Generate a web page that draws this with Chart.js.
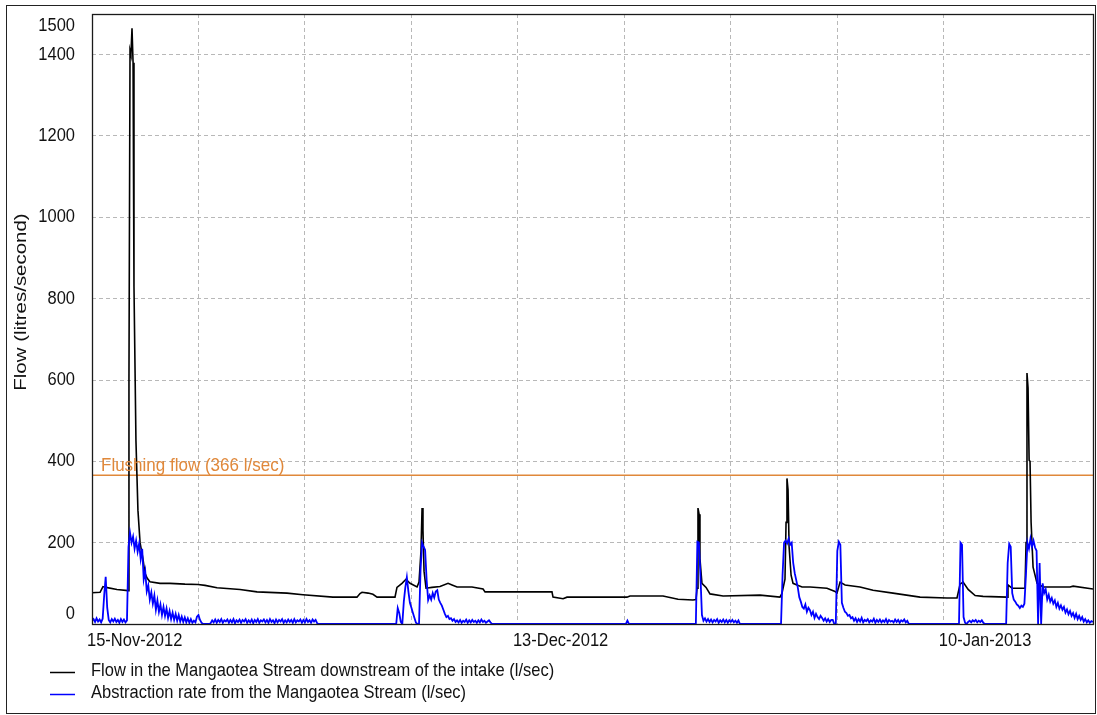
<!DOCTYPE html>
<html>
<head>
<meta charset="utf-8">
<title>Mangaotea Stream flow</title>
<script src="https://cdn.jsdelivr.net/npm/chart.js@4.4.1/dist/chart.umd.min.js"></script>
<style>
  html, body { margin: 0; padding: 0; background: #fff; }
  #wrap { width: 1097px; height: 715px; position: relative; }
</style>
</head>
<body>
<div id="wrap"><canvas id="flowChart" width="1097" height="715"></canvas></div>
<script>
// Time axis: days since 15-Nov-2012 00:00
const START_UTC = Date.UTC(2012, 10, 15);
const LAST_DAY = 65.81;
const MONTHS = ['Jan','Feb','Mar','Apr','May','Jun','Jul','Aug','Sep','Oct','Nov','Dec'];

// Axis tick positions
const flowTicks = [0, 200, 400, 600, 800, 1000, 1200, 1400, 1500];
const dateTickDays = [0, 28, 56];
const gridStepDays = 7;

// Flow downstream of the intake (l/sec)
const flowDays = [
  0, 0.53, 0.72, 0.92, 1.64, 2.37, 2.43, 2.50, 2.56, 2.63, 2.70, 2.76, 2.89, 3.02, 3.16, 3.35,
  3.48, 3.62, 3.81, 4.47, 5.13, 6.11, 6.97, 7.43, 8.22, 9.73, 10.85, 12.82, 13.87, 15.84, 17.42,
  17.62, 17.75, 18.15, 18.47, 18.74, 19.92, 20.05, 20.38, 20.64, 20.91, 21.37, 21.50, 21.63, 21.70,
  21.76, 21.83, 21.96, 22.35, 22.88, 23.41, 23.67, 24.00, 24.98, 25.71, 25.84, 30.24, 30.31, 30.97,
  31.23, 35.17, 35.37, 37.54, 38.53, 39.51, 39.71, 39.78, 39.84, 39.91, 39.97, 40.10, 40.37, 40.63,
  41.49, 43.92, 45.23, 45.36, 45.56, 45.63, 45.69, 45.76, 45.83, 45.96, 46.09, 46.35, 46.68, 47.21,
  48.32, 48.85, 48.98, 49.18, 49.51, 50.49, 51.35, 52.66, 54.44, 56.21, 56.87, 57.07, 57.27, 57.60,
  58.06, 58.58, 60.16, 60.22, 60.49, 61.34, 61.41, 61.47, 61.54, 61.61, 61.67, 61.74, 61.87, 62.13,
  62.53, 64.30, 64.50, 65.81
];
const flowValues = [
  77, 78, 92, 90, 85, 82, 600, 1410, 1400, 1465, 1380, 830, 450, 280, 200, 160,
  125, 113, 104, 100, 100, 98, 97, 95, 89, 85, 79, 76, 72, 66, 66,
  75, 78, 76, 73, 66, 66, 90, 100, 110, 100, 91, 103, 180, 285,
  230, 130, 88, 90, 92, 100, 96, 91, 91, 86, 79, 79, 66, 62,
  66, 66, 69, 69, 61, 59, 60, 88, 285, 270, 160, 100, 90, 74,
  69, 71, 66, 75, 110, 250, 358, 330, 190, 120, 100, 96, 91, 91,
  88, 80, 76, 103, 96, 91, 83, 76, 66, 64, 64, 98, 103, 85,
  70, 68, 66, 96, 88, 88, 200, 617, 580, 403, 400, 250, 140, 100,
  91, 91, 93, 86
];

// Abstraction rate (l/sec), one reading every 0.1 day from day 0
const abstractionStepDays = 0.1;
const abstractionValues = [
  8, 12, 5, 14, 6, 11, 4, 13, 70, 116,          // day 0
  40, 10, 4, 12, 6, 13, 5, 10, 3, 12,           // day 1
  5, 11, 4, 9, 190, 224, 200, 215, 185, 205,    // day 2
  178, 198, 160, 185, 110, 130, 80, 95, 60, 78, // day 3
  50, 70, 35, 58, 30, 48, 22, 42, 20, 38,       // day 4
  15, 32, 12, 28, 10, 25, 8, 22, 6, 18,         // day 5
  5, 16, 4, 14, 3, 12, 3, 8, 4, 18,             // day 6
  22, 10, 3, 0, 0, 0, 0, 0, 2, 9,               // day 7
  4, 11, 3, 10, 5, 12, 3, 9, 6, 11,             // day 8
  3, 10, 4, 12, 2, 9, 5, 11, 3, 10,             // day 9
  6, 12, 3, 9, 4, 11, 2, 10, 5, 12,             // day 10
  3, 9, 6, 11, 4, 10, 3, 12, 5, 9,              // day 11
  2, 11, 4, 10, 6, 12, 3, 9, 4, 11,             // day 12
  5, 10, 3, 12, 4, 9, 6, 11, 3, 10,             // day 13
  4, 12, 5, 9, 3, 11, 6, 10, 2, 0,              // day 14
  0, 0, 0, 0, 0, 0, 0, 0, 0, 0,                 // day 15
  0, 0, 0, 0, 0, 0, 0, 0, 0, 0,                 // day 16
  0, 0, 0, 0, 0, 0, 0, 0, 0, 0,                 // day 17
  0, 0, 0, 0, 0, 0, 0, 0, 0, 0,                 // day 18
  0, 0, 0, 0, 0, 0, 0, 0, 0, 0,                 // day 19
  0, 39, 27, 5, 0, 55, 90, 115, 80, 52,         // day 20
  40, 27, 15, 3, 0, 0, 133, 200, 190, 182,      // day 21
  108, 59, 70, 60, 76, 65, 80, 83, 60, 52,      // day 22
  45, 35, 25, 17, 20, 12, 14, 8, 12, 5,         // day 23
  9, 4, 10, 3, 8, 5, 11, 3, 9, 4,               // day 24
  10, 5, 8, 3, 9, 4, 11, 5, 8, 3,               // day 25
  6, 9, 4, 0, 0, 0, 0, 0, 0, 0,                 // day 26
  0, 0, 0, 0, 0, 0, 0, 0, 0, 0,                 // day 27
  0, 0, 0, 0, 0, 0, 0, 0, 0, 0,                 // day 28
  0, 0, 0, 0, 0, 0, 0, 0, 0, 0,                 // day 29
  0, 0, 0, 0, 0, 0, 0, 0, 0, 0,                 // day 30
  0, 0, 0, 0, 0, 0, 0, 0, 0, 0,                 // day 31
  0, 0, 0, 0, 0, 0, 0, 0, 0, 0,                 // day 32
  0, 0, 0, 0, 0, 0, 0, 0, 0, 0,                 // day 33
  0, 0, 0, 0, 0, 0, 0, 0, 0, 0,                 // day 34
  0, 0, 8, 0, 0, 0, 0, 0, 0, 0,                 // day 35
  0, 0, 0, 0, 0, 0, 0, 0, 0, 0,                 // day 36
  0, 0, 0, 0, 0, 0, 0, 0, 0, 0,                 // day 37
  0, 0, 0, 0, 0, 0, 0, 0, 0, 0,                 // day 38
  0, 0, 0, 0, 0, 0, 0, 0, 202, 200,             // day 39
  120, 22, 8, 14, 6, 12, 5, 11, 4, 10,          // day 40
  6, 12, 3, 9, 5, 11, 4, 10, 3, 9,              // day 41
  5, 10, 4, 8, 3, 9, 0, 0, 0, 0,                // day 42
  0, 0, 0, 0, 0, 0, 0, 0, 0, 0,                 // day 43
  0, 0, 0, 0, 0, 0, 0, 0, 0, 0,                 // day 44
  0, 0, 0, 0, 120, 200, 205, 198, 210, 195,     // day 45
  200, 150, 125, 108, 90, 66, 55, 42, 38, 48,   // day 46
  30, 40, 34, 22, 30, 15, 25, 17, 12, 20,       // day 47
  15, 8, 14, 6, 12, 5, 10, 10, 0, 0,            // day 48
  180, 202, 195, 52, 40, 30, 27, 20, 22, 14,    // day 49
  17, 8, 14, 5, 12, 6, 15, 4, 10, 7,            // day 50
  12, 4, 9, 6, 13, 3, 10, 5, 11, 4,             // day 51
  9, 5, 12, 3, 10, 6, 8, 4, 11, 5,              // day 52
  10, 3, 9, 6, 11, 4, 8, 0, 0, 0,               // day 53
  0, 0, 0, 0, 0, 0, 0, 0, 0, 0,                 // day 54
  0, 0, 0, 0, 0, 0, 0, 0, 0, 0,                 // day 55
  0, 0, 0, 0, 0, 0, 0, 0, 0, 0,                 // day 56
  0, 200, 195, 17, 3, 0, 5, 8, 4, 9,            // day 57
  6, 10, 4, 8, 5, 9, 3, 0, 0, 0,                // day 58
  0, 0, 0, 0, 0, 0, 0, 0, 0, 0,                 // day 59
  0, 0, 150, 197, 190, 76, 60, 55, 48, 45,      // day 60
  39, 45, 42, 50, 120, 200, 185, 210, 190, 205, // day 61
  188, 180, 0, 150, 0, 100, 76, 85, 60, 72,     // day 62
  55, 64, 50, 58, 42, 52, 38, 46, 35, 42,       // day 63
  28, 36, 24, 32, 20, 27, 15, 25, 12, 20,       // day 64
  10, 17, 6, 12, 4, 9, 3, 7, 5                  // day 65
];

// Flushing flow threshold (l/sec)
const FLUSHING_FLOW = 366;

const FONT = '16.5px "Liberation Sans", Arial, sans-serif';
const CAPTION_FONT = '17px "Liberation Sans", Arial, sans-serif';
const TEXT_STRETCH = 1.12;   // glyphs a little taller than wide
const ORANGE = '#e0883a';

function dateLabel(day) {
  const d = new Date(START_UTC + day * 86400000);
  const dd = String(d.getUTCDate()).padStart(2, '0');
  return dd + '-' + MONTHS[d.getUTCMonth()] + '-' + d.getUTCFullYear();
}

// write text with slightly elongated glyphs
function drawText(ctx, text, x, y, sx, sy) {
  ctx.save();
  ctx.translate(x, y);
  ctx.scale(sx, sy);
  ctx.fillText(text, 0, 0);
  ctx.restore();
}

const flowPoints = flowDays.map((d, i) => ({ x: d, y: flowValues[i] }));
const abstractionPoints = abstractionValues.map((v, i) => ({ x: i * abstractionStepDays, y: v }));

// Axis labels, frames, threshold caption and legend drawn on top of the plot
const decorations = {
  id: 'decorations',
  afterDraw(chart) {
    const { ctx, chartArea: a, scales: { x, y } } = chart;
    ctx.save();

    // outer frame
    ctx.strokeStyle = '#222';
    ctx.lineWidth = 1;
    ctx.strokeRect(6.5, 5.5, 1089, 708);

    // plot frame
    ctx.strokeStyle = '#1a1a1a';
    ctx.lineWidth = 1.3;
    ctx.strokeRect(Math.round(a.left) + 0.5, Math.round(a.top) + 0.5,
                   Math.round(a.right - a.left), Math.round(a.bottom - a.top));

    ctx.font = FONT;
    ctx.fillStyle = '#111';

    // flow tick labels (end labels kept inside the plot height)
    ctx.textAlign = 'right';
    ctx.textBaseline = 'middle';
    flowTicks.forEach(v => {
      let py = y.getPixelForValue(v);
      py = Math.max(a.top + 12, Math.min(a.bottom - 10, py));
      drawText(ctx, String(v), 75, py, 1, TEXT_STRETCH);
    });

    // date labels
    ctx.textAlign = 'left';
    dateTickDays.forEach(d => {
      drawText(ctx, dateLabel(d), x.getPixelForValue(d) - 5, a.bottom + 17, 1, TEXT_STRETCH);
    });

    // axis title
    ctx.save();
    ctx.translate(21, 302);
    ctx.rotate(-Math.PI / 2);
    ctx.textAlign = 'center';
    drawText(ctx, 'Flow (litres/second)', 0, 0, 1.24, 1);
    ctx.restore();

    // threshold caption
    ctx.font = CAPTION_FONT;
    ctx.fillStyle = ORANGE;
    ctx.textAlign = 'left';
    ctx.textBaseline = 'alphabetic';
    drawText(ctx, 'Flushing flow (' + FLUSHING_FLOW + ' l/sec)', a.left + 9,
             y.getPixelForValue(FLUSHING_FLOW) - 4, 1, TEXT_STRETCH);

    // legend
    ctx.font = FONT;
    ctx.textBaseline = 'middle';
    const rows = [672, 694];
    [0, 1].forEach((di, k) => {
      const ds = chart.data.datasets[di];
      ctx.strokeStyle = ds.borderColor;
      ctx.lineWidth = 1.5;
      ctx.beginPath();
      ctx.moveTo(50, rows[k] + 0.5);
      ctx.lineTo(75, rows[k] + 0.5);
      ctx.stroke();
      ctx.fillStyle = '#111';
      drawText(ctx, ds.label, 91, rows[k] - 1, 1, TEXT_STRETCH);
    });

    ctx.restore();
  }
};

new Chart(document.getElementById('flowChart'), {
  type: 'line',
  data: {
    datasets: [
      {
        label: 'Flow in the Mangaotea Stream downstream of the intake (l/sec)',
        data: flowPoints,
        borderColor: '#000000',
        borderWidth: 1.6,
        pointRadius: 0,
        tension: 0,
        order: 2
      },
      {
        label: 'Abstraction rate from the Mangaotea Stream (l/sec)',
        data: abstractionPoints,
        borderColor: '#0000ff',
        borderWidth: 1.8,
        pointRadius: 0,
        tension: 0,
        order: 1
      },
      {
        label: 'Flushing flow',
        data: [{ x: 0, y: FLUSHING_FLOW }, { x: LAST_DAY, y: FLUSHING_FLOW }],
        borderColor: ORANGE,
        borderWidth: 1.5,
        pointRadius: 0,
        order: 3
      }
    ]
  },
  options: {
    responsive: false,
    animation: false,
    events: [],
    layout: { padding: { left: 92, right: 4, top: 14, bottom: 91 } },
    plugins: { legend: { display: false }, tooltip: { enabled: false } },
    scales: {
      x: {
        type: 'linear',
        min: 0,
        max: LAST_DAY,
        ticks: { display: false, stepSize: gridStepDays },
        grid: { color: '#b8b8b8', lineWidth: 1, drawTicks: false },
        border: { display: false, dash: [4, 3] }
      },
      y: {
        min: 0,
        max: 1500,
        ticks: { display: false, stepSize: 200 },
        grid: { color: '#b8b8b8', lineWidth: 1, drawTicks: false },
        border: { display: false, dash: [4, 3] }
      }
    }
  },
  plugins: [decorations]
});
</script>
</body>
</html>
